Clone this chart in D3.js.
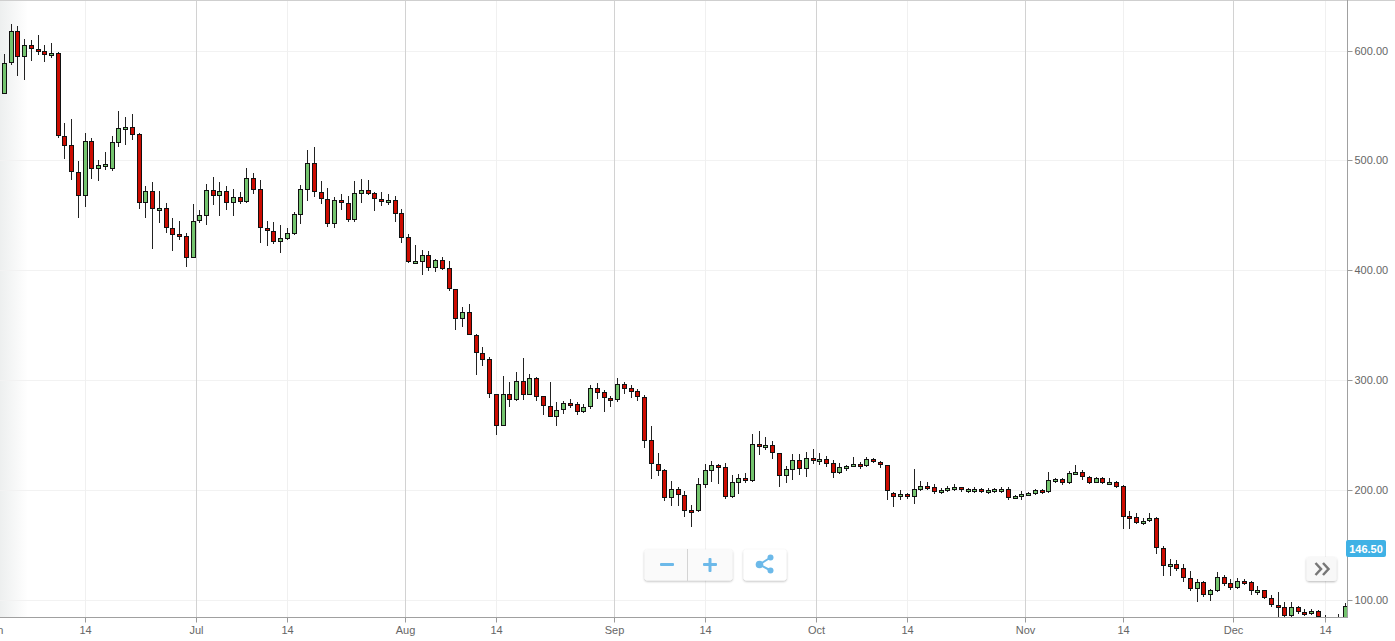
<!DOCTYPE html>
<html>
<head>
<meta charset="utf-8">
<title>Daily price candles</title>
<script src="https://cdn.jsdelivr.net/npm/d3@7/dist/d3.min.js"></script>
<style>
  html, body { margin: 0; padding: 0; background: #fff; overflow: hidden; }
  svg { display: block; font-family: "Liberation Sans", Arial, sans-serif; }
  text { fill: #666; font-size: 11px; }
</style>
</head>
<body>
<svg id="chart" width="1395" height="641"></svg>
<script>
// Daily open / high / low / close, oldest session first.
const opens = [
  560.9,561.5,589.7,617.9,595.1,605.2,601.5,599.7,595.7,597.9,
  522.4,514.2,489.6,468.7,517.8,493.2,495.1,493.2,516.9,528.7,
  530.5,524.2,462.3,472.3,455.0,456.8,438.6,433.2,431.4,412.3,
  445.9,450.5,473.2,468.7,472.3,462.3,466.8,463.2,484.1,474.1,
  438.6,435.9,426.8,429.5,434.1,451.4,474.1,497.8,471.4,465.0,
  443.2,464.1,461.4,446.8,470.5,473.2,470.5,465.0,462.3,464.1,
  452.3,430.4,406.8,408.6,414.1,403.2,409.5,402.2,383.1,356.7,
  362.2,341.3,324.9,319.4,287.6,259.4,287.6,283.0,299.4,287.6,
  302.2,285.8,276.7,267.6,273.9,279.4,278.5,272.1,276.7,293.1,
  289.4,284.0,283.0,296.7,293.1,290.3,284.9,245.7,223.9,218.4,
  193.9,201.2,195.7,182.0,182.0,205.7,218.4,223.0,221.2,194.8,
  207.5,211.2,209.3,242.1,239.4,241.2,233.9,213.9,219.4,227.5,
  220.3,229.4,226.6,228.5,224.8,216.6,220.3,222.1,223.9,223.0,
  228.5,225.7,223.0,197.5,194.8,196.6,194.8,201.2,203.9,203.0,
  198.4,200.2,201.2,203.0,199.3,199.3,201.2,198.4,199.0,199.0,
  201.2,192.7,194.5,195.7,197.2,199.9,199.3,208.1,210.3,207.2,
  214.8,216.6,212.1,207.5,211.2,205.7,207.5,203.9,176.6,175.7,
  170.2,173.0,174.8,147.5,131.1,132.9,129.3,120.2,111.1,116.6,
  105.6,109.3,121.1,115.6,112.0,117.5,116.6,107.4,109.3,102.0,
  95.6,93.8,86.5,93.8,89.2,88.3,90.2,80.8,79.2,76.2,
  76.2
];
const highs = [
  581.2,597.0,624.3,622.4,610.6,609.4,614.2,605.2,607.0,598.2,
  534.2,537.8,499.6,525.1,520.5,500.5,507.8,522.4,545.1,539.6,
  542.4,525.1,476.9,480.5,472.3,461.4,447.7,445.0,434.1,460.5,
  455.0,478.7,485.0,480.5,476.9,474.1,471.4,493.2,488.7,482.3,
  445.0,444.1,441.4,438.6,453.2,477.8,509.6,512.3,481.4,475.0,
  466.8,469.6,467.8,481.4,483.2,482.3,471.4,471.4,469.6,467.8,
  455.9,433.2,423.2,418.6,417.7,410.4,412.3,408.6,383.1,366.8,
  369.5,342.2,330.4,321.3,287.6,304.0,298.5,307.6,320.4,305.8,
  303.1,285.8,298.5,280.3,281.2,283.0,280.3,278.5,295.8,297.6,
  291.2,285.8,302.2,298.5,295.8,292.1,286.7,258.5,233.9,219.4,
  208.4,203.0,199.3,186.6,211.2,223.9,226.6,223.9,224.8,213.9,
  214.8,215.7,251.2,253.9,248.5,244.8,233.9,222.1,233.0,233.0,
  234.8,237.6,233.9,231.2,227.5,224.8,223.0,230.3,225.7,230.3,
  229.4,226.6,223.0,198.4,200.2,197.5,219.4,208.4,207.5,205.7,
  202.1,203.9,205.7,203.0,202.1,203.0,202.1,202.1,202.1,202.7,
  203.0,195.1,199.0,198.1,201.2,201.2,216.6,211.2,211.2,217.2,
  223.0,218.4,213.0,212.1,212.1,211.2,208.4,204.8,181.1,179.3,
  174.8,179.3,175.7,149.3,137.5,136.6,132.9,126.5,119.3,117.5,
  110.2,125.6,122.9,119.3,120.2,119.3,117.5,112.9,109.3,104.7,
  107.4,98.3,98.3,94.7,92.0,92.0,91.1,86.5,82.3,87.4,
  97.4
];
const lows = [
  558.4,560.9,587.6,577.6,574.2,591.5,596.4,590.3,594.2,521.4,
  502.3,483.2,448.6,458.4,483.8,482.3,492.3,491.1,513.3,515.1,
  519.6,456.8,448.6,420.4,444.1,435.0,418.6,428.6,404.1,412.3,
  444.1,442.3,460.5,450.5,455.9,450.5,461.4,462.3,470.5,425.9,
  423.2,425.0,416.8,428.6,433.2,443.2,464.1,467.4,461.4,440.5,
  439.5,455.9,445.0,444.7,462.3,469.6,455.0,459.6,460.5,445.0,
  425.9,407.4,406.2,396.8,400.4,399.5,401.6,382.2,346.7,349.5,
  342.2,305.8,313.7,284.9,251.2,259.1,276.7,282.1,283.0,287.3,
  282.1,269.4,267.3,259.4,270.3,275.8,269.4,271.2,274.9,284.0,
  272.1,276.7,281.2,288.5,284.9,282.1,239.4,211.2,213.9,191.1,
  186.6,186.6,176.6,167.5,181.1,203.0,208.4,206.6,193.0,193.9,
  197.5,207.5,208.4,233.0,237.6,229.4,203.9,207.5,210.3,214.8,
  213.0,224.8,223.9,222.1,212.1,215.7,218.4,222.1,220.3,222.1,
  225.7,221.2,192.1,185.7,192.1,193.0,188.4,200.2,201.2,197.5,
  197.5,199.3,200.2,199.3,198.4,198.4,198.4,197.5,198.1,198.1,
  192.1,192.4,191.8,195.4,196.3,197.8,198.1,207.8,205.4,206.6,
  214.5,210.3,206.6,207.2,206.6,205.4,203.0,165.7,165.7,170.5,
  169.3,172.0,142.9,122.9,122.9,127.5,117.5,109.3,98.9,103.8,
  100.2,108.4,113.8,110.2,111.1,114.7,105.6,105.6,102.0,94.7,
  82.3,83.8,83.8,88.3,86.5,87.4,84.7,73.2,73.2,73.2,
  73.2
];
const closes = [
  578.2,588.8,617.9,595.1,605.2,602.1,599.4,597.0,597.9,523.3,
  514.2,490.5,468.7,517.8,493.2,496.0,496.9,516.9,529.6,530.5,
  524.2,462.3,472.3,456.8,456.8,439.5,433.2,431.4,412.3,445.0,
  450.5,473.2,468.7,472.3,462.3,466.8,463.2,484.1,474.1,439.5,
  436.8,426.8,429.5,434.1,451.4,474.1,497.8,472.3,465.9,443.2,
  464.1,462.3,446.8,470.5,473.2,470.5,465.9,463.2,464.1,452.3,
  430.4,408.6,408.6,414.1,403.2,409.5,402.2,384.0,356.7,362.2,
  342.2,325.8,319.4,288.5,259.4,287.6,283.0,299.4,287.6,302.2,
  285.8,277.6,267.6,273.0,279.4,277.6,272.1,275.8,293.1,289.4,
  284.9,282.1,296.7,293.1,290.3,285.8,245.7,224.8,218.4,193.9,
  201.2,196.6,182.0,180.2,205.7,218.4,223.0,221.2,194.8,207.5,
  211.2,209.3,242.1,240.3,241.2,234.8,213.9,219.4,227.5,220.3,
  229.4,227.5,228.5,224.8,216.6,221.2,222.1,223.9,222.1,228.5,
  226.6,223.9,200.2,194.8,196.6,194.8,201.2,203.9,202.1,199.3,
  200.2,202.1,203.0,201.2,201.2,201.2,199.3,200.2,200.9,201.2,
  193.9,194.5,196.6,197.5,200.2,198.1,209.3,210.3,207.5,215.7,
  216.6,213.0,207.5,211.2,207.5,207.5,203.9,176.6,174.8,171.1,
  172.0,174.8,148.4,132.0,132.9,129.3,121.1,111.1,116.6,105.6,
  109.3,121.1,115.6,112.0,117.5,115.6,109.3,109.3,102.9,96.5,
  93.8,86.5,93.8,90.2,87.4,90.2,85.6,76.2,76.2,79.8,
  94.7
];

// Time axis: tick labels and the session index each one sits at.
const monthLabels = ["Jun", "Jul", "Aug", "Sep", "Oct", "Nov", "Dec"];
const monthSlots  = [-0.5, 29.5, 60.5, 91.5, 121.5, 152.5, 183.4];
const midLabels   = ["14", "14", "14", "14", "14", "14", "14"];
const midSlots    = [13, 43, 74, 105, 135, 167, 197];

const priceTicks = [600, 500, 400, 300, 200, 100];
const lastPrice = 146.50;

const width = 1395, height = 641;
const axisX = 1347, axisY = 617;

const svg = d3.select("#chart");

const x = d3.scaleLinear().domain([0, 200]).range([-2.4, 1345.4]);
const y = d3.scaleLinear().domain([600, 100]).range([51, 600.5]);
const px = i => Math.floor(x(i)) + 0.5;
const crisp = v => Math.floor(y(v)) + 0.5;

const candles = opens.map((o, i) => ({ i, o, h: highs[i], l: lows[i], c: closes[i] }));

const defs = svg.append("defs");
const edge = defs.append("linearGradient").attr("id", "edgeFade");
edge.append("stop").attr("offset", "0%").attr("stop-color", "#edefef");
edge.append("stop").attr("offset", "100%").attr("stop-color", "#ffffff");
defs.append("clipPath").attr("id", "plot").append("rect")
  .attr("width", axisX).attr("height", axisY);
const drop = defs.append("filter").attr("id", "btnShadow")
  .attr("x", "-10%").attr("y", "-10%").attr("width", "120%").attr("height", "130%");
drop.append("feDropShadow").attr("dx", 0).attr("dy", 1).attr("stdDeviation", 0.8)
  .attr("flood-color", "#000").attr("flood-opacity", 0.28);

// Soft fade along the left edge of the plot.
svg.append("rect").attr("width", 28).attr("height", axisY).attr("fill", "url(#edgeFade)");

// Horizontal grid.
svg.append("g").selectAll("line").data(priceTicks).join("line")
  .attr("x1", 0).attr("x2", axisX)
  .attr("y1", d => crisp(d)).attr("y2", d => crisp(d))
  .attr("stroke", "#f2f2f2");

// Vertical grid: mid-month lines are faint, month starts heavier.
svg.append("g").selectAll("line").data(midSlots).join("line")
  .attr("x1", px).attr("x2", px).attr("y1", 0).attr("y2", axisY)
  .attr("stroke", "#f0f0f0");
svg.append("g").selectAll("line").data(monthSlots).join("line")
  .attr("x1", px).attr("x2", px).attr("y1", 0).attr("y2", axisY)
  .attr("stroke", "#d2d2d2");

// Frame line along the top.
svg.append("line").attr("x1", 0).attr("x2", width).attr("y1", 0.5).attr("y2", 0.5)
  .attr("stroke", "#cfcfcf");

// Candles.
const plot = svg.append("g").attr("clip-path", "url(#plot)");
const candle = plot.selectAll("g").data(candles).join("g");
candle.append("line")
  .attr("x1", d => px(d.i)).attr("x2", d => px(d.i))
  .attr("y1", d => Math.floor(y(d.h))).attr("y2", d => Math.floor(y(d.l)) + 1)
  .attr("stroke", "#222");
candle.append("rect")
  .attr("x", d => px(d.i) - 2)
  .attr("width", 4)
  .attr("y", d => crisp(Math.max(d.o, d.c)))
  .attr("height", d => Math.max(1, crisp(Math.min(d.o, d.c)) - crisp(Math.max(d.o, d.c))))
  .attr("fill", d => d.c >= d.o ? "#74c46e" : "#cc0b00")
  .attr("stroke", "#111");

// Axes.
const tickSlots = monthSlots.concat(midSlots);
const tickNames = new Map(tickSlots.map((s, k) => [s, monthLabels.concat(midLabels)[k]]));
const bottom = svg.append("g").attr("transform", `translate(0,${axisY + 0.5})`)
  .call(d3.axisBottom(x).tickValues(tickSlots).tickFormat(s => tickNames.get(s)).tickSize(5).tickPadding(4).tickSizeOuter(0));
bottom.select(".domain").remove();
bottom.selectAll(".tick").attr("transform", s => `translate(${px(s)},0)`);
bottom.selectAll("line").attr("stroke", "#999");
bottom.selectAll("text").style("font-family", "inherit").style("font-size", "11px").attr("fill", "#666");

const right = svg.append("g").attr("transform", `translate(${axisX + 0.5},0)`)
  .call(d3.axisRight(y).tickValues(priceTicks).tickFormat(d3.format(".2f")).tickSize(5).tickPadding(2).tickSizeOuter(0));
right.select(".domain").remove();
right.selectAll(".tick").attr("transform", v => `translate(0,${crisp(v)})`);
right.selectAll("line").attr("stroke", "#999");
right.selectAll("text").style("font-family", "inherit").style("font-size", "11px").attr("fill", "#666");

svg.append("line").attr("x1", 0).attr("x2", axisX + 1).attr("y1", axisY + 0.5).attr("y2", axisY + 0.5)
  .attr("stroke", "#a0a0a0");
svg.append("line").attr("x1", axisX + 0.5).attr("x2", axisX + 0.5).attr("y1", 0).attr("y2", axisY + 1)
  .attr("stroke", "#a0a0a0");

// Current price flag on the price axis.
const flag = svg.append("g").attr("transform", `translate(${axisX - 1},${Math.floor(y(lastPrice))})`);
flag.append("rect").attr("x", 0).attr("y", -9).attr("width", 40).attr("height", 17).attr("rx", 2)
  .attr("fill", "#3fb1e5");
flag.append("text").attr("x", 20).attr("y", 4).attr("text-anchor", "middle")
  .style("fill", "#fff").style("font-weight", "bold").style("font-size", "11px")
  .text(d3.format(".2f")(lastPrice));

// Zoom controls.
const iconBlue = "#6cb9e9";
const controls = svg.append("g");
controls.append("rect").attr("x", 644.5).attr("y", 549.5).attr("width", 88).attr("height", 31).attr("rx", 3)
  .attr("fill", "#fafafa").attr("filter", "url(#btnShadow)");
controls.append("line").attr("x1", 687.5).attr("x2", 687.5).attr("y1", 549).attr("y2", 581)
  .attr("stroke", "#d4d4d4");
controls.append("rect").attr("x", 660).attr("y", 563).attr("width", 14).attr("height", 3).attr("rx", 1).attr("fill", iconBlue);
controls.append("rect").attr("x", 703).attr("y", 563).attr("width", 14).attr("height", 3).attr("rx", 1).attr("fill", iconBlue);
controls.append("rect").attr("x", 708.5).attr("y", 558).attr("width", 3).attr("height", 14).attr("rx", 1).attr("fill", iconBlue);

// Share button.
controls.append("rect").attr("x", 743.5).attr("y", 549.5).attr("width", 43).attr("height", 31).attr("rx", 3)
  .attr("fill", "#fff").attr("filter", "url(#btnShadow)");
controls.append("path").attr("d", "M759.5 564.5L770.5 557.5M759.5 564.5L770.5 570.5")
  .attr("stroke", iconBlue).attr("stroke-width", 2).attr("fill", "none");
controls.append("circle").attr("cx", 759.5).attr("cy", 564.5).attr("r", 3.8).attr("fill", iconBlue);
controls.append("circle").attr("cx", 770.5).attr("cy", 557.5).attr("r", 3).attr("fill", iconBlue);
controls.append("circle").attr("cx", 770.5).attr("cy", 570.5).attr("r", 3).attr("fill", iconBlue);

// Jump-to-latest button.
controls.append("rect").attr("x", 1306.5).attr("y", 557).attr("width", 30).attr("height", 24).attr("rx", 3)
  .attr("fill", "#f8f8f8").attr("filter", "url(#btnShadow)");
controls.append("path").attr("d", "M1315.5 563L1321 569L1315.5 575M1323 563L1328.5 569L1323 575")
  .attr("stroke", "#777").attr("stroke-width", 2.5).attr("fill", "none");
</script>
</body>
</html>
